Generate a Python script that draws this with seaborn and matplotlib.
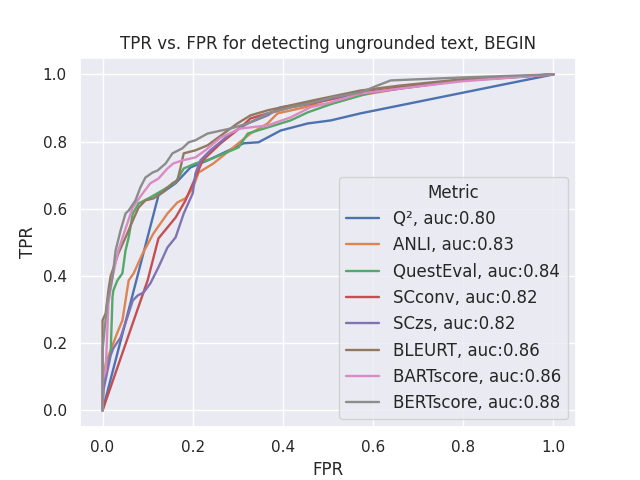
import pandas as pd
import seaborn as sns
import matplotlib
matplotlib.use("Agg")
import matplotlib.pyplot as plt

sns.set_theme()

# ROC points (fpr, tpr)
q2_fpr = [0, 0.124, 0.162, 0.195, 0.233, 0.313, 0.346, 0.395, 0.455, 0.506, 0.572, 1.0]
q2_tpr = [0, 0.640, 0.676, 0.723, 0.744, 0.795, 0.798, 0.833, 0.854, 0.863, 0.884, 1.0]

anli_fpr = [0, 0.002, 0.007, 0.018, 0.033, 0.044, 0.058, 0.069, 0.089, 0.113, 0.144, 0.166, 0.184, 0.2,
            0.213, 0.246, 0.328, 0.366, 0.388, 0.468, 0.512, 0.572, 0.661, 0.794, 1.0]
anli_tpr = [0, 0.089, 0.14, 0.179, 0.232, 0.268, 0.387, 0.408, 0.467, 0.527, 0.586, 0.619, 0.631, 0.661,
            0.708, 0.735, 0.824, 0.854, 0.884, 0.908, 0.914, 0.938, 0.958, 0.982, 1.0]

qe_fpr = [0, 0.002, 0.018, 0.022, 0.024, 0.033, 0.044, 0.051, 0.058, 0.067, 0.080, 0.106, 0.133, 0.162,
          0.180, 0.206, 0.244, 0.302, 0.322, 0.366, 0.417, 0.455, 0.512, 0.588, 0.654, 0.727, 0.800, 0.911, 1.0]
qe_tpr = [0, 0.089, 0.170, 0.336, 0.357, 0.387, 0.408, 0.476, 0.515, 0.586, 0.616, 0.634, 0.655, 0.679,
          0.720, 0.735, 0.750, 0.783, 0.824, 0.842, 0.863, 0.887, 0.914, 0.943, 0.961, 0.973, 0.982, 0.991, 1.0]

scconv_fpr = [0, 0.100, 0.124, 0.162, 0.184, 0.206, 0.222, 0.262, 0.306, 0.328, 0.366, 0.417, 0.468,
              0.528, 0.572, 0.661, 0.794, 1.0]
scconv_tpr = [0, 0.387, 0.512, 0.574, 0.625, 0.693, 0.744, 0.795, 0.842, 0.869, 0.884, 0.902, 0.914,
              0.932, 0.946, 0.961, 0.982, 1.0]

sczs_fpr = [0, 0.002, 0.018, 0.024, 0.040, 0.055, 0.067, 0.078, 0.091, 0.106, 0.124, 0.144, 0.162, 0.180,
            0.200, 0.206, 0.217, 0.239, 0.284, 0.322, 0.366, 0.395, 0.455, 0.528, 0.661, 0.794, 1.0]
sczs_tpr = [0, 0.06, 0.164, 0.185, 0.217, 0.277, 0.327, 0.342, 0.351, 0.378, 0.426, 0.485, 0.515, 0.586,
            0.646, 0.705, 0.744, 0.774, 0.824, 0.854, 0.878, 0.902, 0.914, 0.935, 0.958, 0.982, 1.0]

bleurt_fpr = [0, 0, 0.007, 0.013, 0.018, 0.024, 0.035, 0.055, 0.067, 0.080, 0.095, 0.113, 0.133, 0.155,
              0.166, 0.173, 0.180, 0.206, 0.233, 0.299, 0.328, 0.366, 0.417, 0.468, 0.572, 0.661, 0.794, 1.0]
bleurt_tpr = [0, 0.268, 0.289, 0.357, 0.400, 0.423, 0.467, 0.527, 0.565, 0.604, 0.625, 0.631, 0.649, 0.676,
              0.685, 0.723, 0.765, 0.774, 0.789, 0.854, 0.878, 0.893, 0.908, 0.923, 0.952, 0.967, 0.985, 1.0]

bart_fpr = [0, 0, 0.007, 0.013, 0.022, 0.035, 0.055, 0.067, 0.089, 0.106, 0.124, 0.144, 0.157, 0.177,
            0.206, 0.228, 0.262, 0.306, 0.366, 0.417, 0.461, 0.499, 0.572, 0.661, 0.794, 1.0]
bart_tpr = [0, 0.089, 0.119, 0.318, 0.396, 0.476, 0.557, 0.604, 0.646, 0.676, 0.690, 0.720, 0.735, 0.744,
            0.753, 0.774, 0.812, 0.839, 0.848, 0.872, 0.902, 0.914, 0.943, 0.958, 0.979, 1.0]

bert_fpr = [0, 0, 0.011, 0.022, 0.029, 0.040, 0.051, 0.058, 0.073, 0.084, 0.095, 0.111, 0.122, 0.140,
            0.155, 0.177, 0.191, 0.206, 0.233, 0.284, 0.322, 0.366, 0.417, 0.461, 0.512, 0.572, 0.610,
            0.639, 0.690, 0.800, 1.0]
bert_tpr = [0, 0.18, 0.327, 0.396, 0.476, 0.536, 0.586, 0.595, 0.625, 0.664, 0.693, 0.708, 0.714, 0.735,
            0.765, 0.780, 0.798, 0.804, 0.824, 0.839, 0.854, 0.884, 0.902, 0.914, 0.932, 0.946, 0.967,
            0.982, 0.985, 0.991, 1.0]

labels = ["Q², auc:0.80", "ANLI, auc:0.83", "QuestEval, auc:0.84", "SCconv, auc:0.82",
          "SCzs, auc:0.82", "BLEURT, auc:0.86", "BARTscore, auc:0.86", "BERTscore, auc:0.88"]
curves = [(q2_fpr, q2_tpr), (anli_fpr, anli_tpr), (qe_fpr, qe_tpr), (scconv_fpr, scconv_tpr),
          (sczs_fpr, sczs_tpr), (bleurt_fpr, bleurt_tpr), (bart_fpr, bart_tpr), (bert_fpr, bert_tpr)]

frames = []
for lab, (f, t) in zip(labels, curves):
    frames.append(pd.DataFrame({"FPR": f, "TPR": t, "Metric": lab}))
df = pd.concat(frames, ignore_index=True)

fig, ax = plt.subplots(figsize=(6.4, 4.8), dpi=100)
sns.lineplot(data=df, x="FPR", y="TPR", hue="Metric", hue_order=labels,
             sort=False, estimator=None, linewidth=1.7, ax=ax)
ax.set_title("TPR vs. FPR for detecting ungrounded text, BEGIN")
ax.set_xlabel("FPR")
ax.set_ylabel("TPR")
leg = ax.legend(title="Metric", loc="lower right", fontsize=12, title_fontsize=12)

plt.savefig("out.png", dpi=100)
